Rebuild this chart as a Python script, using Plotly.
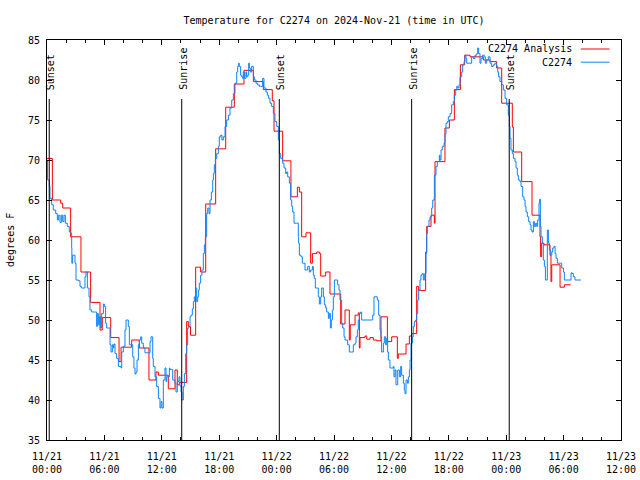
import plotly.graph_objects as go
from datetime import datetime, timedelta

# ---------------- data ----------------
start_time = datetime(2024, 11, 21, 0, 0)
end_time = datetime(2024, 11, 23, 12, 0)

# analysis (red) : hours after 11/21 00:00 UTC, degrees F (stepped)
red_hours = [0.0, 0.56, 1.43, 1.64, 2.47, 3.55, 4.56, 5.54, 5.78, 6.66,
             7.53, 7.74, 8.85, 9.65, 10.66, 11.39, 11.64, 12.68, 13.38, 13.62,
             13.83, 14.60, 14.77, 15.00, 15.54, 16.06, 16.59, 17.63, 18.68, 19.58,
             20.59, 21.57, 22.61, 23.55, 23.73, 24.63, 25.50, 26.17, 26.38, 26.62,
             27.07, 27.56, 27.74, 28.19, 28.50, 28.61, 29.13, 29.58, 30.70, 31.15,
             31.60, 31.70, 32.20, 32.54, 32.65, 32.72, 33.24, 33.42, 33.76, 34.11,
             34.46, 34.91, 35.58, 36.03, 36.62, 36.72, 37.53, 37.88, 38.12, 38.64,
             38.85, 39.58, 39.69, 40.14, 40.49, 40.56, 41.60, 42.06, 42.58, 43.21,
             43.66, 44.22, 45.61, 46.31, 47.00, 47.53, 48.64, 48.75, 49.62, 50.70,
             51.53, 51.60, 51.71, 51.95, 52.58, 52.68, 52.76, 53.63, 54.08, 54.74]
red_temps = [70.2, 65.0, 64.6, 64.0, 60.4, 56.0, 52.2, 48.75, 50.3, 47.8,
             44.8, 46.6, 47.5, 46.5, 42.5, 43.5, 43.1, 41.4, 43.75, 41.9,
             42.2, 49.8, 49.2, 48.1, 56.6, 56.0, 64.5, 71.4, 76.6, 79.5,
             81.2, 79.8, 78.8, 77.4, 73.6, 69.9, 65.4, 66.6, 66.0, 60.4,
             60.9, 57.1, 58.3, 58.5, 58.3, 55.5, 56.0, 53.25, 49.5, 51.25,
             47.5, 49.4, 50.6, 50.9, 46.5, 47.8, 48.0, 47.6, 47.8, 47.5,
             47.4, 50.4, 47.3, 47.9, 45.2, 45.75, 47.0, 48.0, 48.3, 54.2,
             53.7, 58.5, 61.7, 63.1, 62.1, 69.8, 74.0, 75.0, 78.8, 81.9,
             83.1, 82.9, 82.5, 82.3, 81.5, 77.1, 74.1, 71.0, 67.3, 63.1,
             60.4, 57.9, 59.6, 59.4, 58.1, 54.8, 56.9, 54.1, 54.4, 54.4]

# observations (blue)
blue_hours = [
    0.00, 0.05, 0.24, 0.31, 0.49, 0.66, 0.91, 1.08, 1.22, 1.36, 1.50, 1.64, 1.78, 1.92, 2.12, 2.33, 2.51,
    2.58, 2.60, 2.68, 2.86, 2.93, 3.03, 3.28, 3.45, 3.59, 3.87, 3.97, 4.08, 4.22, 4.39, 4.49, 4.67, 5.09, 5.19, 5.26, 5.37,
    5.47, 5.61, 5.71, 5.89, 5.99, 6.13, 6.24, 6.41, 6.59, 6.69, 6.83, 6.93, 7.00, 7.11, 7.28, 7.46, 7.74, 7.81, 7.98, 8.15,
    8.26, 8.40, 8.50, 8.61, 8.85, 8.96, 9.09, 9.20, 9.30, 9.41, 9.55, 9.65, 9.79, 9.90, 10.07, 10.24, 10.59, 10.77, 10.87, 11.05,
    11.11, 11.29, 11.46, 11.64, 11.81, 11.92, 12.02, 12.16, 12.33, 12.44, 12.51, 12.68, 12.79,
    12.86, 13.00, 13.14, 13.38, 13.48, 13.62, 13.80, 13.90, 14.01, 14.11, 14.25, 14.36, 14.50, 14.60, 14.70, 14.84,
    14.95, 15.05, 15.19, 15.30, 15.40, 15.54, 15.65, 15.75, 15.85, 15.92, 16.06, 16.20, 16.34, 16.45, 16.55,
    16.69, 16.80, 16.94, 17.04, 17.18, 17.32, 17.39, 17.49, 17.60, 17.74, 17.91, 18.01, 18.15, 18.29, 18.43, 18.61, 18.78, 18.96, 19.13, 19.31,
    19.48, 19.65, 19.83, 19.93, 20.04, 20.10, 20.24, 20.35, 20.45, 20.52, 20.66, 20.80, 20.87, 20.98, 21.08, 21.15, 21.25, 21.39, 21.57, 21.67,
    21.85, 21.99, 22.20, 22.33, 22.54, 22.68, 22.89, 23.03, 23.17, 23.31,
    23.48, 23.66, 23.83, 24.01, 24.18, 24.29, 24.43, 24.64, 24.77, 24.95, 25.05, 25.16, 25.33, 25.47, 25.58, 25.68, 25.82, 26.10, 26.27,
    26.30, 26.38, 26.55, 26.69, 26.79, 26.97, 27.14, 27.25, 27.42, 27.56, 27.74, 27.84, 27.94, 28.05, 28.19, 28.36, 28.47, 28.61, 28.71, 28.89,
    28.99, 29.13, 29.23, 29.41, 29.51, 29.62, 29.72, 29.83, 29.93, 30.04, 30.21, 30.38, 30.52, 30.63, 30.80, 30.91, 31.05, 31.15, 31.33, 31.43,
    31.60, 31.85, 32.02, 32.20, 32.30, 32.44, 32.54, 32.65, 32.79, 32.89, 33.94, 34.04, 34.18, 34.39, 34.53, 34.67, 34.81, 34.91, 34.98, 35.16,
    35.26, 35.40, 35.51, 35.61, 35.68, 35.85, 36.03, 36.20, 36.27, 36.38, 36.48, 36.66, 36.83,
    36.97, 37.07, 37.25, 37.35, 37.42, 37.53, 37.67, 37.77, 37.88, 37.95, 38.05, 38.19, 38.29, 38.40, 38.54, 38.64, 38.75, 38.85, 38.99, 39.09,
    39.20, 39.34, 39.48, 39.62, 39.69,
    39.76, 39.93, 40.04, 40.21, 40.32, 40.49, 40.66, 40.80, 41.01, 41.08, 41.19, 41.32, 41.50, 41.60, 41.71, 41.85, 41.95, 42.13, 42.30, 42.47,
    42.58, 42.72, 42.83, 42.93, 43.07, 43.17, 43.35, 43.45, 43.59, 43.69, 43.80, 43.87, 44.22, 44.39, 44.57, 44.74, 44.92, 45.02, 45.12, 45.26,
    45.37, 45.54, 45.71, 45.82, 45.96, 46.13, 46.31, 46.48, 46.66, 46.83, 47.00, 47.11, 47.21, 47.35,
    47.53, 47.70, 47.88, 48.05, 48.22, 48.33, 48.40, 48.50, 48.64, 48.75, 48.92, 49.03, 49.16, 49.27, 49.44, 49.55, 49.72, 49.86, 49.97, 50.07,
    50.21, 50.35, 50.49, 50.59, 50.70, 50.84, 50.94, 51.08, 51.19, 51.29, 51.43, 51.50, 51.57,
    51.64, 51.78, 51.88, 51.99, 52.10, 52.30, 52.41, 52.51, 52.65, 52.76, 52.86, 53.00, 53.11, 53.21, 53.35, 53.63, 53.80, 53.98, 54.08, 54.67,
    54.78, 54.88, 55.02, 55.19, 55.82]
blue_temps = [
    70.0, 67.5, 66.7, 65.2, 64.4, 63.75, 63.3, 62.5, 63.1, 62.2, 63.1, 62.3, 63.1, 62.1, 61.7, 61.0, 60.8,
    59.0, 57.1, 58.1, 58.1, 57.1, 55.0, 54.9, 54.2, 54.0, 54.0, 55.4, 56.0, 54.0, 52.9, 51.25, 51.0, 51.0, 49.2, 50.8, 49.4,
    50.4, 49.0, 50.8, 52.0, 51.7, 49.6, 49.0, 49.0, 46.9, 46.0, 46.9, 46.5, 47.0, 45.8, 45.2, 44.2, 44.0, 46.0, 46.7, 48.75,
    50.0, 50.0, 49.2, 46.9, 46.9, 45.4, 44.0, 43.25, 43.5, 45.0, 46.9, 47.5, 47.9, 47.1, 46.5, 45.9, 45.9, 47.3, 47.9, 45.2,
    44.2, 42.9, 41.7, 40.2, 39.0, 39.8, 39.0, 42.5, 44.0, 42.3, 42.9, 42.9, 44.0,
    43.8, 43.8, 42.5, 42.1, 41.0, 42.3, 42.9, 41.75, 41.0, 40.0, 41.7, 43.3, 45.8, 46.9, 49.0, 49.2,
    50.4, 50.6, 51.4, 52.3, 52.9, 54.0, 52.3, 52.9, 53.75, 54.6, 55.6, 56.25, 58.3, 59.4, 60.4,
    63.3, 64.0, 63.3, 65.0, 66.0, 67.5, 68.3, 69.4, 70.2, 70.8, 71.7, 72.9, 73.1, 72.5, 72.9, 74.2, 75.0, 75.6, 76.5, 77.5,
    78.3, 79.6, 81.0, 81.7, 82.1, 81.7, 80.6, 80.4, 80.2, 81.0, 80.2, 81.0, 80.4, 80.6, 82.1, 81.5, 81.0, 81.7, 80.4, 80.0,
    79.6, 79.4, 79.2, 79.2, 80.2, 79.0, 78.5, 78.1, 77.7, 77.1,
    76.7, 75.8, 74.8, 74.2, 72.5, 70.8, 70.2, 69.6, 69.0, 68.3, 68.5, 67.9, 67.1, 65.0, 64.2, 63.5, 62.1, 62.1, 60.4,
    59.6, 58.1, 57.9, 57.1, 57.1, 56.25, 56.25, 56.7, 56.0, 56.25, 56.7, 55.6, 55.2, 54.0, 54.0, 52.9, 52.0, 52.9, 54.0, 52.9,
    51.9, 51.5, 51.0, 50.2, 50.8, 49.0, 50.0, 51.25, 52.9, 55.0, 55.0, 54.4, 53.75, 52.5, 49.6, 49.0, 47.9, 47.5, 47.5, 46.9,
    46.0, 46.0, 46.9, 47.1, 47.9, 48.75, 50.0, 50.8, 51.0, 50.0, 50.0, 50.6, 52.9, 52.9, 52.5, 50.6, 48.75, 47.9, 46.0, 47.1,
    47.9, 46.9, 47.7, 46.0, 45.0, 44.0, 44.0, 44.2, 42.9, 43.75, 41.9, 43.75, 42.9,
    44.2, 43.1, 42.1, 41.25, 40.8, 42.5, 42.1, 42.9, 43.75, 45.0, 47.1, 47.9, 49.2, 49.8, 50.0, 50.8, 52.5, 53.75, 55.0, 55.6,
    55.8, 55.0, 55.8, 58.3, 60.8,
    61.7, 62.5, 62.9, 64.0, 65.0, 68.1, 69.2, 69.8, 70.6, 70.0, 71.25, 71.7, 72.1, 73.3, 74.6, 74.8, 75.4, 75.8, 76.9, 77.3,
    78.1, 78.75, 79.2, 79.0, 79.4, 80.4, 81.0, 81.9, 82.3, 83.1, 82.7, 82.1, 82.1, 82.9, 82.7, 83.1, 83.3, 84.0, 83.3, 82.1,
    82.7, 83.1, 82.9, 82.1, 82.5, 82.9, 82.1, 81.7, 81.9, 82.1, 81.7, 81.0, 80.4, 79.8,
    79.4, 78.75, 77.7, 76.9, 75.6, 74.2, 72.7, 71.25, 70.8, 70.2, 69.8, 69.0, 68.1, 67.5, 67.3, 66.7, 65.4, 65.0, 64.2, 63.5,
    62.9, 62.3, 61.9, 61.25, 61.0, 62.3, 61.7, 62.1, 61.7, 62.5, 64.6, 65.1, 61.7,
    60.4, 59.6, 57.5, 56.7, 55.0, 61.25, 59.6, 58.75, 58.1, 58.5, 59.0, 59.2, 58.3, 57.7, 57.1, 57.1, 56.5, 56.0, 55.0, 55.0,
    55.9, 55.8, 55.4, 55.0, 55.0]

sun_times = ["2024-11-21 00:14", "2024-11-21 14:05", "2024-11-22 00:17",
             "2024-11-22 14:07", "2024-11-23 00:19"]
sun_labels = ["Sunset", "Sunrise", "Sunset", "Sunrise", "Sunset"]

x_tick_times = ["2024-11-21 00:00", "2024-11-21 06:00", "2024-11-21 12:00",
                "2024-11-21 18:00", "2024-11-22 00:00", "2024-11-22 06:00",
                "2024-11-22 12:00", "2024-11-22 18:00", "2024-11-23 00:00",
                "2024-11-23 06:00", "2024-11-23 12:00"]
x_tick_labels = ["11/21<br>00:00", "11/21<br>06:00", "11/21<br>12:00", "11/21<br>18:00",
                 "11/22<br>00:00", "11/22<br>06:00", "11/22<br>12:00", "11/22<br>18:00",
                 "11/23<br>00:00", "11/23<br>06:00", "11/23<br>12:00"]

series_names = ["C2274 Analysis", "C2274"]
title_text = "Temperature for C2274 on 2024-Nov-21 (time in UTC)"
y_title = "degrees F"

assert len(red_hours) == len(red_temps)
assert len(blue_hours) == len(blue_temps), (len(blue_hours), len(blue_temps))

# ---------------- figure ----------------
FONT = "DejaVu Sans Mono"
RED = "#ff0000"
BLUE = "#0a84ff"

def to_time(h):
    return start_time + timedelta(hours=h)

fig = go.Figure()
fig.add_trace(go.Scatter(x=[to_time(h) for h in red_hours], y=red_temps, mode="lines",
                         line=dict(color=RED, width=1, shape="hv"), name=series_names[0],
                         hoverinfo="skip"))
fig.add_trace(go.Scatter(x=[to_time(h) for h in blue_hours], y=blue_temps, mode="lines",
                         line=dict(color=BLUE, width=1, shape="hv"), name=series_names[1],
                         hoverinfo="skip"))

shapes = []
annotations = []
for st, lab in zip(sun_times, sun_labels):
    shapes.append(dict(type="line", xref="x", yref="paper", x0=st, x1=st, y0=0, y1=0.8525,
                       line=dict(color="black", width=1), layer="above"))
    annotations.append(dict(x=st, xref="x", y=0.87, yref="paper", text=lab, textangle=-90,
                            showarrow=False, xanchor="center", yanchor="bottom", xshift=1,
                            font=dict(family=FONT, size=10, color="black")))

# manual gnuplot-style key (text right, sample line to its right)
legend_rows = [(0.9775, RED), (0.9445, BLUE)]
for (ly, col), name in zip(legend_rows, series_names):
    annotations.append(dict(x=0.918, y=ly, xref="paper", yref="paper", text=name,
                            showarrow=False, xanchor="right", yanchor="middle",
                            font=dict(family=FONT, size=10, color="black")))
    shapes.append(dict(type="line", xref="paper", yref="paper", x0=0.930, x1=0.980,
                       y0=ly, y1=ly, line=dict(color=col, width=1)))

# y-axis title placed like gnuplot's
annotations.append(dict(x=-0.0645, y=0.5, xref="paper", yref="paper", text=y_title,
                        textangle=-90, showarrow=False, xanchor="center", yanchor="middle",
                        font=dict(family=FONT, size=10, color="black")))

minor_vals = [start_time + timedelta(hours=2 * k) for k in range(31)]

fig.update_layout(
    width=640, height=480,
    margin=dict(l=47, r=19, t=40, b=40, autoexpand=False),
    paper_bgcolor="white", plot_bgcolor="white",
    showlegend=False, hovermode=False,
    font=dict(family=FONT, size=10, color="black"),
    title=dict(text=title_text, x=0.5, xref="paper", xanchor="center",
               y=1 - 20 / 480, yref="container", yanchor="middle",
               font=dict(family=FONT, size=10, color="black")),
    shapes=shapes, annotations=annotations,
    xaxis=dict(type="date", range=[start_time, end_time], automargin=False,
               tickmode="array", tickvals=x_tick_times, ticktext=x_tick_labels,
               ticks="inside", ticklen=5, tickcolor="black", tickwidth=1,
               showline=True, linecolor="black", linewidth=1, mirror="ticks",
               showgrid=False, zeroline=False, ticklabelstandoff=7,
               tickfont=dict(family=FONT, size=10, color="black"),
               minor=dict(tickmode="array", tickvals=minor_vals, ticks="inside",
                          ticklen=3, tickcolor="black", showgrid=False)),
    yaxis=dict(range=[35, 85], dtick=5, tick0=35, automargin=False,
               ticks="inside", ticklen=5, tickcolor="black", tickwidth=1,
               showline=True, linecolor="black", linewidth=1, mirror="ticks",
               showgrid=False, zeroline=False, ticklabelstandoff=4,
               tickfont=dict(family=FONT, size=10, color="black")),
)

fig.write_html("out.html",
               config={"displayModeBar": False, "staticPlot": True},
               post_script="document.body.style.margin='0';document.body.style.overflow='hidden';")
